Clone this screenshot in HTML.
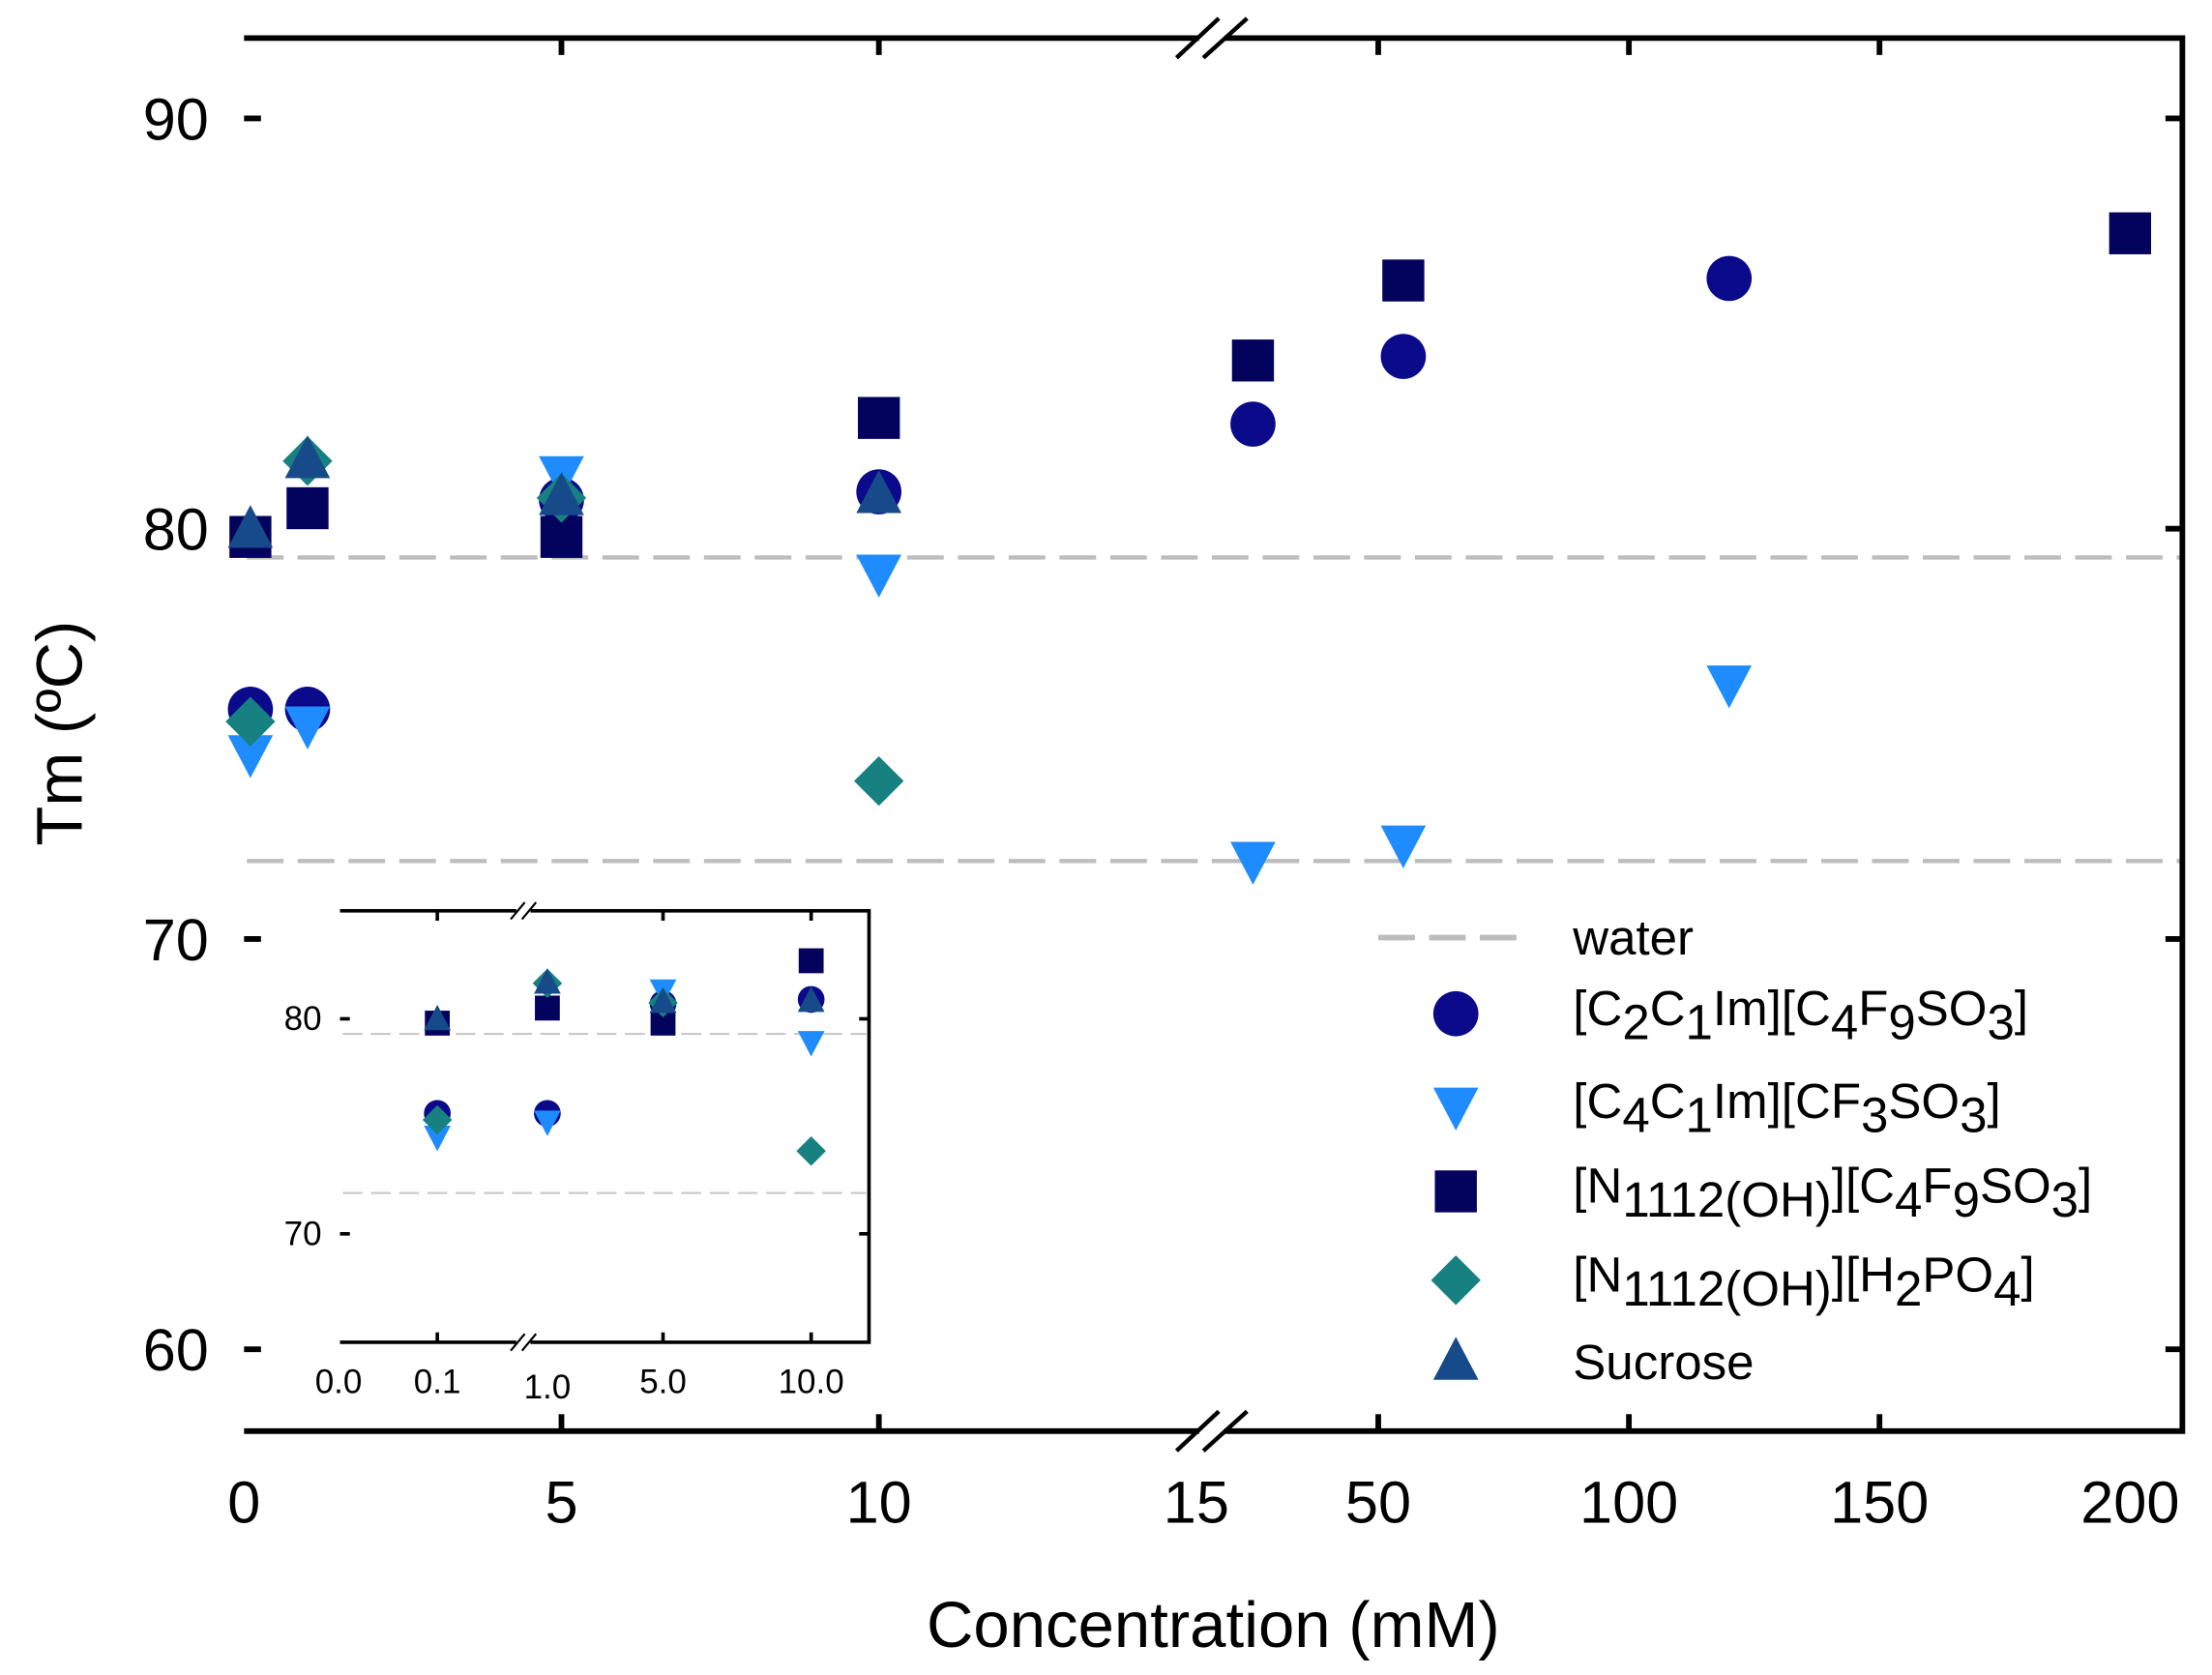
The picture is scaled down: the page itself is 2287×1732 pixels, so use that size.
<!DOCTYPE html>
<html><head><meta charset="utf-8"><style>
html,body{margin:0;padding:0;background:#fff;}
svg{display:block;font-family:"Liberation Sans",Arial,sans-serif;}
</style></head><body>
<svg id="chart" width="2287" height="1732" viewBox="0 0 1568 1188" preserveAspectRatio="none" xmlns="http://www.w3.org/2000/svg">
<g id="main"></g>
<g id="inset"></g>
</svg>
<script>
// ---- data ----
const seriesNames = ["C2C1Im-C4F9SO3","C4C1Im-CF3SO3","N1112OH-C4F9SO3","N1112OH-H2PO4","Sucrose"];
const circleX = [0.1, 1, 5, 10, 25, 55, 120];
const circleY = [75.6, 75.6, 80.7, 80.9, 82.55, 84.2, 86.1];
const triDownX = [0.1, 1, 5, 10, 25, 55, 120];
const triDownY = [74.5, 75.2, 81.3, 78.9, 71.9, 72.3, 76.2];
const squareX = [0.1, 1, 5, 10, 25, 55, 200];
const squareY = [79.8, 80.5, 79.8, 82.7, 84.1, 86.05, 87.2];
const diamondX = [0.1, 1, 5, 10];
const diamondY = [75.3, 81.65, 80.75, 73.85];
const triUpX = [0.1, 1, 5, 10];
const triUpY = [80.0, 81.7, 80.8, 80.85];
const waterLevels = [79.3, 71.9];
const yTicks = [60, 70, 80, 90];
const xTicksLeft = [0, 5, 10, 15];
const xTicksRight = [50, 100, 150, 200];
const insetYTicks = [70, 80];
const insetCats = [0.1, 1, 5, 10];
const insetCatLabels = ["0.1", "1.0", "5.0", "10.0"];

const NS = "http://www.w3.org/2000/svg";
function mk(parent, tag, attrs, text) {
  const e = document.createElementNS(NS, tag);
  for (const k in attrs) e.setAttribute(k, attrs[k]);
  if (text !== undefined) e.textContent = text;
  parent.appendChild(e);
  return e;
}
// ---- scales ----
const yS = v => 375 - (v - 80) * 29.1;
const xS = v => v <= 15 ? 173 + v * 45 : 977 + (v - 50) * 3.553;
const iyS = v => 722.6 - (v - 80) * 15.25;
const iCatPos = {0.1: 310, 1: 388, 5: 470, 10: 575};
const ixS = v => iCatPos[v];

const colors = ["#0a0a8a", "#1e8cff", "#03035e", "#178080", "#174a88"];

function marker(g, type, cx, cy, s, name) {
  let e;
  if (type === "circle") e = mk(g, "circle", {cx: cx, cy: cy, r: s, fill: colors[0]});
  else if (type === "tridown") e = mk(g, "polygon", {points: `${cx-s},${cy-s*0.85} ${cx+s},${cy-s*0.85} ${cx},${cy+s*1.05}`, fill: colors[1]});
  else if (type === "square") e = mk(g, "rect", {x: cx-s*0.93, y: cy-s*0.93, width: s*1.86, height: s*1.86, fill: colors[2]});
  else if (type === "diamond") e = mk(g, "polygon", {points: `${cx},${cy-s*1.1} ${cx+s*1.1},${cy} ${cx},${cy+s*1.1} ${cx-s*1.1},${cy}`, fill: colors[3]});
  else e = mk(g, "polygon", {points: `${cx-s},${cy+s*0.85} ${cx+s},${cy+s*0.85} ${cx},${cy-s*1.05}`, fill: colors[4]});
  
  
  return e;
}

const main = document.getElementById("main");
// water lines
waterLevels.forEach((w, i) => {
  const l = mk(main, "line", {x1: 175, x2: 1545, y1: yS(w), y2: yS(w), stroke: "#bdbdbd", "stroke-width": 3, "stroke-dasharray": "26,10"});
  
  
});
// frame
const fr = mk(main, "path", {d: "M173,27 H850 M868,27 H1547 V1015 H868 M850,1015 H173 Z", fill: "none", stroke: "#000", "stroke-width": 4});


// break marks
[27, 1015].forEach(y => {
  [[834, 864], [853, 884]].forEach(([a, b]) => {
    const l = mk(main, "line", {x1: a, y1: y + 14, x2: b, y2: y - 14, stroke: "#000", "stroke-width": 3});
    
    
  });
});
// y ticks
yTicks.forEach(v => {
  const y = yS(v);
  mk(main, "line", {x1: 173, x2: 185, y1: y, y2: y, stroke: "#000", "stroke-width": 4});
  mk(main, "line", {x1: 1535, x2: 1547, y1: y, y2: y, stroke: "#000", "stroke-width": 4});
  const t = mk(main, "text", {x: 148, y: y + 15, "text-anchor": "end", "font-size": 42}, String(v));
  
  
});
// x ticks
xTicksLeft.concat(xTicksRight).forEach(v => {
  const x = xS(v);
  if (v !== 0 && v !== 15 && v !== 200) {
    mk(main, "line", {x1: x, x2: x, y1: 1015, y2: 1003, stroke: "#000", "stroke-width": 4});
    mk(main, "line", {x1: x, x2: x, y1: 27, y2: 39, stroke: "#000", "stroke-width": 4});
  }
  const t = mk(main, "text", {x: x, y: 1080, "text-anchor": "middle", "font-size": 42}, String(v));
  
  
});
// axis titles
let t = mk(main, "text", {x: 860, y: 1168, "text-anchor": "middle", "font-size": 46}, "Concentration (mM)");


t = mk(main, "text", {x: 0, y: 0, "text-anchor": "middle", "font-size": 46, transform: "translate(58,520) rotate(-90)"}, "Tm (ºC)");



// series
function drawSeries(g, xs, ys, type, xf, yf, s, name) {
  xs.forEach((x, i) => {
    const px = xf(x);
    if (px === undefined) return;
    marker(g, type, px, yf(ys[i]), s, name);
  });
}
function drawAll(g, xf, yf, s, filt) {
  const f = (xs, ys) => filt ? [xs.filter(x => x <= 10), ys.filter((y, i) => xs[i] <= 10)] : [xs, ys];
  let a = f(circleX, circleY); drawSeries(g, a[0], a[1], "circle", xf, yf, s, "point-c2c1im-c4f9so3");
  a = f(triDownX, triDownY); drawSeries(g, a[0], a[1], "tridown", xf, yf, s, "point-c4c1im-cf3so3");
  a = f(squareX, squareY); drawSeries(g, a[0], a[1], "square", xf, yf, s, "point-n1112oh-c4f9so3");
  a = f(diamondX, diamondY); drawSeries(g, a[0], a[1], "diamond", xf, yf, s, "point-n1112oh-h2po4");
  a = f(triUpX, triUpY); drawSeries(g, a[0], a[1], "triup", xf, yf, s, "point-sucrose");
}
drawAll(main, xS, yS, 16, false);

// legend
const lg = mk(main, "g", {});


const wl = mk(lg, "line", {x1: 977, x2: 1077, y1: 665, y2: 665, stroke: "#bdbdbd", "stroke-width": 4, "stroke-dasharray": "26,10"});


const lt = mk(lg, "text", {x: 1115, y: 677, "font-size": 35}, "water");


const sb = (s) => `<tspan dy="10" font-size="35">${s}</tspan><tspan dy="-10">`;
const legendItems = [
  ["circle", 719, `[C${sb('2')}C</tspan>${sb('1')}Im][C</tspan>${sb('4')}F</tspan>${sb('9')}SO</tspan>${sb('3')}]</tspan>`],
  ["tridown", 785, `[C${sb('4')}C</tspan>${sb('1')}Im][CF</tspan>${sb('3')}SO</tspan>${sb('3')}]</tspan>`],
  ["square", 845, `[N${sb('1112(OH)')}][C</tspan>${sb('4')}F</tspan>${sb('9')}SO</tspan>${sb('3')}]</tspan>`],
  ["diamond", 908, `[N${sb('1112(OH)')}][H</tspan>${sb('2')}PO</tspan>${sb('4')}]</tspan>`],
  ["triup", 965, 'Sucrose']
];
legendItems.forEach(([type, y, html]) => {
  marker(lg, type, 1032, y, 16, 'legend-marker');
  const tx = mk(lg, "text", {x: 1115, y: type === "triup" ? y + 13 : y + 8, "font-size": 35});
  tx.innerHTML = html;
  
  
});

// ---- inset ----
const ins = document.getElementById("inset");


mk(ins, "rect", {x: 241, y: 646, width: 375, height: 306, fill: "#fff"});
waterLevels.forEach(w => {
  const l = mk(ins, "line", {x1: 243, x2: 614, y1: iyS(w), y2: iyS(w), stroke: "#c8c8c8", "stroke-width": 1.5, "stroke-dasharray": "14,6"});
  
  
});
const ifr = mk(ins, "path", {d: "M241,646 H366 M376,646 H616 V952 H376 M366,952 H241 Z", fill: "none", stroke: "#000", "stroke-width": 2.5});


[646, 952].forEach(y => {
  [[362, 372], [370, 380]].forEach(([a, b]) => {
    mk(ins, "line", {x1: a, y1: y + 6, x2: b, y2: y - 6, stroke: "#000", "stroke-width": 1.5});
  });
});
insetYTicks.forEach(v => {
  const y = iyS(v);
  mk(ins, "line", {x1: 241, x2: 248, y1: y, y2: y, stroke: "#000", "stroke-width": 2.5});
  mk(ins, "line", {x1: 609, x2: 616, y1: y, y2: y, stroke: "#000", "stroke-width": 2.5});
  const tt = mk(ins, "text", {x: 228, y: y + 8, "text-anchor": "end", "font-size": 24}, String(v));
  
  
});
let t0 = mk(ins, "text", {x: 240, y: 988, "text-anchor": "middle", "font-size": 24}, "0.0");


insetCats.forEach((c, i) => {
  const x = ixS(c);
  if (c !== 1) {
    mk(ins, "line", {x1: x, x2: x, y1: 952, y2: 945, stroke: "#000", "stroke-width": 2.5});
    mk(ins, "line", {x1: x, x2: x, y1: 646, y2: 653, stroke: "#000", "stroke-width": 2.5});
  }
  const tt = mk(ins, "text", {x: x, y: c === 1 ? 992 : 988, "text-anchor": "middle", "font-size": 24}, insetCatLabels[i]);
  
  
});
drawAll(ins, ixS, iyS, 9.5, true);
</script>
</body></html>
